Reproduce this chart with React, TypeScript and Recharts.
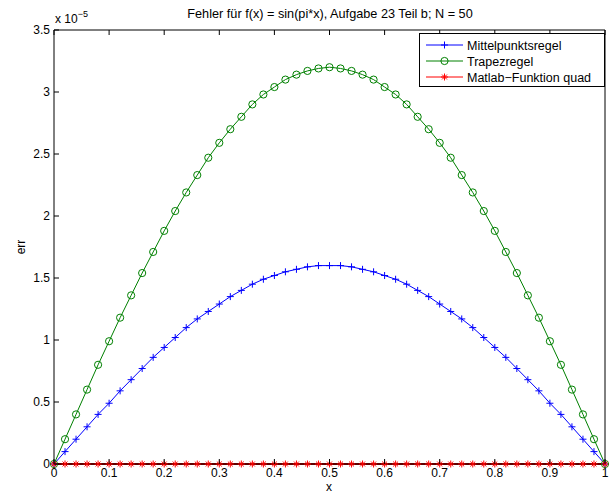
import { LineChart, Line, XAxis, YAxis, Legend } from 'recharts';

// x-Werte (Stützstellen, N = 50)
const xs = [
  0, 0.02, 0.04, 0.06, 0.08, 0.1, 0.12, 0.14, 0.16, 0.18, 0.2, 0.22, 0.24,
  0.26, 0.28, 0.3, 0.32, 0.34, 0.36, 0.38, 0.4, 0.42, 0.44, 0.46, 0.48, 0.5,
  0.52, 0.54, 0.56, 0.58, 0.6, 0.62, 0.64, 0.66, 0.68, 0.7, 0.72, 0.74, 0.76,
  0.78, 0.8, 0.82, 0.84, 0.86, 0.88, 0.9, 0.92, 0.94, 0.96, 0.98, 1,
];

// Fehler in Einheiten von 1e-5
const mittelpunkt = [
  0, 0.1, 0.2, 0.3, 0.4, 0.49, 0.59, 0.68, 0.77, 0.86, 0.94, 1.02, 1.1, 1.17,
  1.23, 1.29, 1.35, 1.4, 1.45, 1.49, 1.52, 1.55, 1.57, 1.59, 1.6, 1.6, 1.6,
  1.59, 1.57, 1.55, 1.52, 1.49, 1.45, 1.4, 1.35, 1.29, 1.23, 1.17, 1.1, 1.02,
  0.94, 0.86, 0.77, 0.68, 0.59, 0.49, 0.4, 0.3, 0.2, 0.1, 0,
];
const trapez = [
  0, 0.2, 0.4, 0.6, 0.8, 0.99, 1.18, 1.36, 1.54, 1.71, 1.88, 2.04, 2.19, 2.33,
  2.47, 2.59, 2.7, 2.8, 2.9, 2.98, 3.04, 3.1, 3.14, 3.17, 3.19, 3.2, 3.19,
  3.17, 3.14, 3.1, 3.04, 2.98, 2.9, 2.8, 2.7, 2.59, 2.47, 2.33, 2.19, 2.04,
  1.88, 1.71, 1.54, 1.36, 1.18, 0.99, 0.8, 0.6, 0.4, 0.2, 0,
];
const quad = [
  0, 0, 0, 0, 0, 0, 0, 0, 0, 0, 0, 0, 0, 0, 0, 0, 0, 0, 0, 0, 0, 0, 0, 0, 0,
  0, 0, 0, 0, 0, 0, 0, 0, 0, 0, 0, 0, 0, 0, 0, 0, 0, 0, 0, 0, 0, 0, 0, 0, 0, 0,
];

const xTicks = [0, 0.1, 0.2, 0.3, 0.4, 0.5, 0.6, 0.7, 0.8, 0.9, 1];
const yTicks = [0, 0.5, 1, 1.5, 2, 2.5, 3, 3.5];

const data = xs.map((x, i) => ({
  x,
  mittel: mittelpunkt[i],
  trapez: trapez[i],
  quad: quad[i],
}));

const FONT = '"Liberation Sans", Arial, Helvetica, sans-serif';
const BLUE = '#0000ff';
const GREEN = '#008000';
const RED = '#ff0000';

function Plus({ cx, cy, color }: { cx: number; cy: number; color: string }) {
  return (
    <g stroke={color} strokeWidth={1}>
      <line x1={cx - 3.5} y1={cy} x2={cx + 3.5} y2={cy} />
      <line x1={cx} y1={cy - 3.5} x2={cx} y2={cy + 3.5} />
    </g>
  );
}

function Circle({ cx, cy, color }: { cx: number; cy: number; color: string }) {
  return <circle cx={cx} cy={cy} r={3.6} fill="none" stroke={color} strokeWidth={1} />;
}

function Star({ cx, cy, color }: { cx: number; cy: number; color: string }) {
  const r = 3.5;
  const d = r * 0.7;
  return (
    <g stroke={color} strokeWidth={1}>
      <line x1={cx - r} y1={cy} x2={cx + r} y2={cy} />
      <line x1={cx} y1={cy - r} x2={cx} y2={cy + r} />
      <line x1={cx - d} y1={cy - d} x2={cx + d} y2={cy + d} />
      <line x1={cx - d} y1={cy + d} x2={cx + d} y2={cy - d} />
    </g>
  );
}

const fmt = (v: number) => String(v);

function BottomTick(props: any) {
  const { x, y, payload } = props;
  return (
    <g>
      <line x1={x} y1={y} x2={x} y2={y - 5} stroke="#000" />
      <text x={x} y={y + 13} textAnchor="middle" fontSize={12} fontFamily={FONT} fill="#000">
        {fmt(payload.value)}
      </text>
    </g>
  );
}

function TopTick(props: any) {
  const { x, y } = props;
  return <line x1={x} y1={y} x2={x} y2={y + 5} stroke="#000" />;
}

function LeftTick(props: any) {
  const { x, y, payload } = props;
  return (
    <g>
      <line x1={x} y1={y} x2={x + 5} y2={y} stroke="#000" />
      <text x={x - 4} y={y + 4} textAnchor="end" fontSize={12} fontFamily={FONT} fill="#000">
        {fmt(payload.value)}
      </text>
    </g>
  );
}

function RightTick(props: any) {
  const { x, y } = props;
  return <line x1={x} y1={y} x2={x - 5} y2={y} stroke="#000" />;
}

const legendItems = [
  { name: 'Mittelpunktsregel', color: BLUE, Mark: Plus },
  { name: 'Trapezregel', color: GREEN, Mark: Circle },
  { name: 'Matlab\u2212Funktion quad', color: RED, Mark: Star },
];

function MatlabLegend() {
  return (
    <svg width={186} height={54} style={{ display: 'block' }}>
      <rect x={0.5} y={0.5} width={185} height={53} fill="#fff" stroke="#000" />
      {legendItems.map((it, i) => {
        const y = 12 + i * 16;
        const M = it.Mark;
        return (
          <g key={it.name}>
            <line x1={7} y1={y} x2={44} y2={y} stroke={it.color} />
            <M cx={25.5} cy={y} color={it.color} />
            <text x={48} y={y + 4.5} fontSize={12.5} fontFamily={FONT} fill="#000">
              {it.name}
            </text>
          </g>
        );
      })}
    </svg>
  );
}

export default function App() {
  return (
    <div style={{ position: 'absolute', left: 0, top: 0, width: 614, height: 494, background: '#fff' }}>
      <LineChart width={614} height={494} data={data} margin={{ top: 0, right: 0, bottom: 0, left: 0 }}>
        <XAxis
          dataKey="x"
          type="number"
          domain={[0, 1]}
          ticks={xTicks}
          interval={0}
          tickSize={0}
          tickMargin={0}
          height={30}
          tick={<BottomTick />}
          axisLine={{ stroke: '#000' }}
          tickLine={false}
        />
        <XAxis
          xAxisId="t"
          orientation="top"
          dataKey="x"
          type="number"
          domain={[0, 1]}
          ticks={xTicks}
          interval={0}
          tickSize={0}
          tickMargin={0}
          height={30}
          tick={<TopTick />}
          axisLine={{ stroke: '#000' }}
          tickLine={false}
        />
        <YAxis
          type="number"
          domain={[0, 3.5]}
          ticks={yTicks}
          interval={0}
          tickSize={0}
          tickMargin={0}
          width={54}
          tick={<LeftTick />}
          axisLine={{ stroke: '#000' }}
          tickLine={false}
        />
        <YAxis
          yAxisId="r"
          orientation="right"
          type="number"
          domain={[0, 3.5]}
          ticks={yTicks}
          interval={0}
          tickSize={0}
          tickMargin={0}
          width={9}
          tick={<RightTick />}
          axisLine={{ stroke: '#000' }}
          tickLine={false}
        />
        <Legend
          layout="vertical"
          align="center"
          verticalAlign="middle"
          wrapperStyle={{ position: 'absolute', left: 419, top: 33, width: 186, height: 54 }}
          content={() => <MatlabLegend />}
        />
        <Line
          dataKey="mittel"
          stroke={BLUE}
          strokeWidth={1}
          isAnimationActive={false}
          dot={(p: any) => <Plus key={`p${p.index}`} cx={p.cx} cy={p.cy} color={BLUE} />}
        />
        <Line
          dataKey="trapez"
          stroke={GREEN}
          strokeWidth={1}
          isAnimationActive={false}
          dot={(p: any) => <Circle key={`c${p.index}`} cx={p.cx} cy={p.cy} color={GREEN} />}
        />
        <Line
          dataKey="quad"
          stroke="#c00000"
          strokeWidth={2}
          isAnimationActive={false}
          dot={(p: any) => <Star key={`s${p.index}`} cx={p.cx} cy={p.cy} color={RED} />}
        />
      </LineChart>
      <svg
        width={614}
        height={494}
        style={{ position: 'absolute', left: 0, top: 0, pointerEvents: 'none' }}
      >
        <text x={330} y={18} textAnchor="middle" fontSize={12.7} fontFamily={FONT} fill="#000">
          Fehler für f(x) = sin(pi*x), Aufgabe 23 Teil b; N = 50
        </text>
        <text x={55} y={23} fontSize={12} fontFamily={FONT} fill="#000">
          x 10
          <tspan dy={-6} fontSize={9}>
            {'\u22125'}
          </tspan>
        </text>
        <text
          x={25}
          y={247}
          textAnchor="middle"
          fontSize={12}
          fontFamily={FONT}
          fill="#000"
          transform="rotate(-90 25 247)"
        >
          err
        </text>
        <text x={329} y={491} textAnchor="middle" fontSize={12} fontFamily={FONT} fill="#000">
          x
        </text>
      </svg>
    </div>
  );
}
